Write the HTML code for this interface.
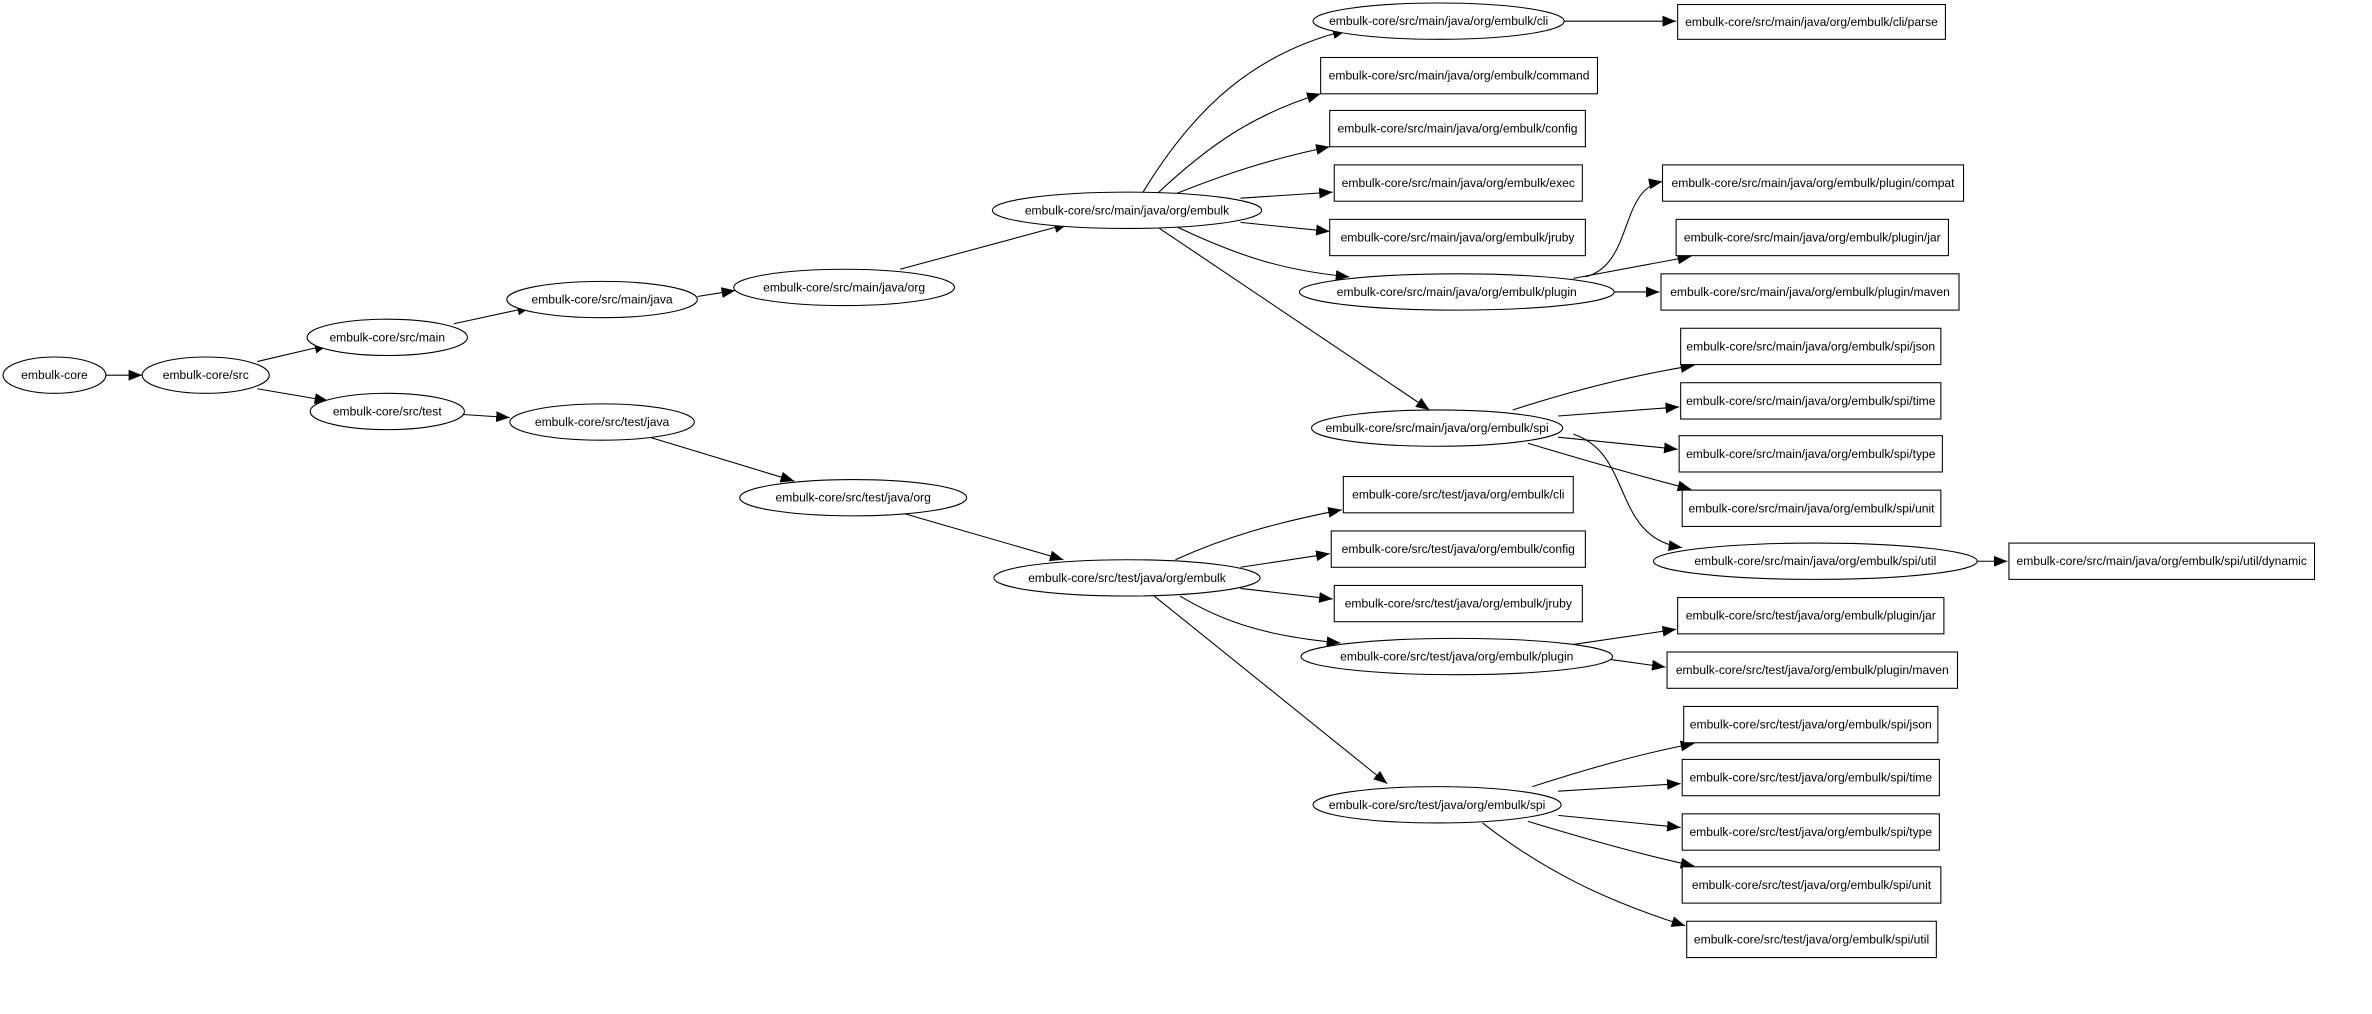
<!DOCTYPE html>
<html><head><meta charset="utf-8"><style>
html,body{margin:0;padding:0;background:#fff;}
svg{display:block;}
text{font-family:"Liberation Sans",Arial,sans-serif;font-size:8px;fill:#000;text-anchor:middle;dominant-baseline:central;}
.n{fill:#fff;stroke:#000;stroke-width:0.7;}
.e{fill:none;stroke:#000;stroke-width:0.7;marker-end:url(#a);}
</style></head><body>
<svg width="2372" height="1014" viewBox="0 0 1568 670.3" xmlns="http://www.w3.org/2000/svg">
<defs><marker id="a" viewBox="0 0 10 10" refX="10" refY="5" markerWidth="9" markerHeight="9" markerUnits="userSpaceOnUse" orient="auto"><path d="M0,1 L10,5 L0,9 z" fill="#000"/></marker></defs>

<path class="e" d="M70,248 L94,248"/>
<path class="e" d="M170,239 L217,228"/>
<path class="e" d="M170,257 L217,265"/>
<path class="e" d="M300,214 L351,203"/>
<path class="e" d="M306,274 L337,276"/>
<path class="e" d="M461,196 L486,192"/>
<path class="e" d="M426,288 L525,318"/>
<path class="e" d="M595,178 L706,148"/>
<path class="e" d="M596,339 L703,370"/>
<path class="e" d="M755,128 C790,70 830,35 890,20"/>
<path class="e" d="M765,128 C800,95 830,75 873,62"/>
<path class="e" d="M775,129 C810,115 840,105 879,97"/>
<path class="e" d="M820,131 L881,127"/>
<path class="e" d="M820,147 L879,153"/>
<path class="e" d="M778,150 C820,170 850,179 892,183"/>
<path class="e" d="M765,150 L945,271"/>
<path class="e" d="M1034,14 L1108,14"/>
<path class="e" d="M1048,183 C1080,175 1070,125 1099,120"/>
<path class="e" d="M1040,184 L1118,169.5"/>
<path class="e" d="M1067,193 L1097,193"/>
<path class="e" d="M1000,271 C1040,258 1080,248 1120,241.5"/>
<path class="e" d="M1030,275 L1110,269"/>
<path class="e" d="M1030,289 L1109,297"/>
<path class="e" d="M1010,293 C1050,305 1085,315 1118,323.5"/>
<path class="e" d="M1040,287 C1080,300 1065,355 1112,362"/>
<path class="e" d="M1307,371 L1327,371"/>
<path class="e" d="M777,370 C810,355 845,345 887,337"/>
<path class="e" d="M820,375 L879,366"/>
<path class="e" d="M820,389 L881,396"/>
<path class="e" d="M780,394 C810,412 840,421 886,425"/>
<path class="e" d="M763,394 L917,518"/>
<path class="e" d="M1040,426 L1108,416"/>
<path class="e" d="M1065,436 L1101,441"/>
<path class="e" d="M1013,520 C1050,508 1085,498 1120,491.5"/>
<path class="e" d="M1030,523 L1111,518"/>
<path class="e" d="M1030,539 L1111,547"/>
<path class="e" d="M1010,543 C1050,555 1085,565 1120,572.5"/>
<path class="e" d="M980,544 C1020,575 1060,595 1114,612"/>

<ellipse class="n" cx="36" cy="248" rx="34" ry="12"/><text x="36" y="248">embulk-core</text>
<ellipse class="n" cx="136" cy="248" rx="42" ry="12"/><text x="136" y="248">embulk-core/src</text>
<ellipse class="n" cx="256" cy="223" rx="53" ry="12"/><text x="256" y="223">embulk-core/src/main</text>
<ellipse class="n" cx="256" cy="272" rx="51" ry="12"/><text x="256" y="272">embulk-core/src/test</text>
<ellipse class="n" cx="398" cy="198" rx="63" ry="12"/><text x="398" y="198">embulk-core/src/main/java</text>
<ellipse class="n" cx="398" cy="279" rx="61" ry="12"/><text x="398" y="279">embulk-core/src/test/java</text>
<ellipse class="n" cx="558" cy="190" rx="73" ry="12"/><text x="558" y="190">embulk-core/src/main/java/org</text>
<ellipse class="n" cx="564" cy="329" rx="75" ry="12"/><text x="564" y="329">embulk-core/src/test/java/org</text>
<ellipse class="n" cx="745" cy="139" rx="89" ry="12"/><text x="745" y="139">embulk-core/src/main/java/org/embulk</text>
<ellipse class="n" cx="745" cy="382" rx="88" ry="12"/><text x="745" y="382">embulk-core/src/test/java/org/embulk</text>
<ellipse class="n" cx="951" cy="14" rx="83" ry="12"/><text x="951" y="14">embulk-core/src/main/java/org/embulk/cli</text>
<ellipse class="n" cx="963" cy="193" rx="104" ry="12"/><text x="963" y="193">embulk-core/src/main/java/org/embulk/plugin</text>
<ellipse class="n" cx="950" cy="283" rx="83" ry="12"/><text x="950" y="283">embulk-core/src/main/java/org/embulk/spi</text>
<ellipse class="n" cx="1200" cy="371" rx="107" ry="12"/><text x="1200" y="371">embulk-core/src/main/java/org/embulk/spi/util</text>
<ellipse class="n" cx="963" cy="434" rx="103" ry="12"/><text x="963" y="434">embulk-core/src/test/java/org/embulk/plugin</text>
<ellipse class="n" cx="950" cy="532" rx="82" ry="12"/><text x="950" y="532">embulk-core/src/test/java/org/embulk/spi</text>

<rect class="n" x="1109" y="3" width="177" height="23"/><text x="1197.5" y="14.5">embulk-core/src/main/java/org/embulk/cli/parse</text>
<rect class="n" x="873" y="38" width="183" height="24"/><text x="964.5" y="50">embulk-core/src/main/java/org/embulk/command</text>
<rect class="n" x="879" y="73" width="169" height="24"/><text x="963.5" y="85">embulk-core/src/main/java/org/embulk/config</text>
<rect class="n" x="882" y="109" width="164" height="24"/><text x="964" y="121">embulk-core/src/main/java/org/embulk/exec</text>
<rect class="n" x="879" y="145" width="169" height="24"/><text x="963.5" y="157">embulk-core/src/main/java/org/embulk/jruby</text>
<rect class="n" x="1099" y="109" width="199" height="24"/><text x="1198.5" y="121">embulk-core/src/main/java/org/embulk/plugin/compat</text>
<rect class="n" x="1108" y="145" width="180" height="24"/><text x="1198" y="157">embulk-core/src/main/java/org/embulk/plugin/jar</text>
<rect class="n" x="1098" y="181" width="197" height="24"/><text x="1196.5" y="193">embulk-core/src/main/java/org/embulk/plugin/maven</text>
<rect class="n" x="1111" y="217" width="172" height="24"/><text x="1197" y="229">embulk-core/src/main/java/org/embulk/spi/json</text>
<rect class="n" x="1111" y="253" width="172" height="24"/><text x="1197" y="265">embulk-core/src/main/java/org/embulk/spi/time</text>
<rect class="n" x="1110" y="288" width="174" height="24"/><text x="1197" y="300">embulk-core/src/main/java/org/embulk/spi/type</text>
<rect class="n" x="1112" y="324" width="171" height="24"/><text x="1197.5" y="336">embulk-core/src/main/java/org/embulk/spi/unit</text>
<rect class="n" x="1328" y="359" width="202" height="24"/><text x="1429" y="371">embulk-core/src/main/java/org/embulk/spi/util/dynamic</text>
<rect class="n" x="888" y="315" width="152" height="24"/><text x="964" y="327">embulk-core/src/test/java/org/embulk/cli</text>
<rect class="n" x="880" y="351" width="168" height="24"/><text x="964" y="363">embulk-core/src/test/java/org/embulk/config</text>
<rect class="n" x="882" y="387" width="164" height="24"/><text x="964" y="399">embulk-core/src/test/java/org/embulk/jruby</text>
<rect class="n" x="1109" y="395" width="176" height="24"/><text x="1197" y="407">embulk-core/src/test/java/org/embulk/plugin/jar</text>
<rect class="n" x="1102" y="431" width="192" height="24"/><text x="1198" y="443">embulk-core/src/test/java/org/embulk/plugin/maven</text>
<rect class="n" x="1113" y="467" width="168" height="24"/><text x="1197" y="479">embulk-core/src/test/java/org/embulk/spi/json</text>
<rect class="n" x="1112" y="502" width="170" height="24"/><text x="1197" y="514">embulk-core/src/test/java/org/embulk/spi/time</text>
<rect class="n" x="1112" y="538" width="170" height="24"/><text x="1197" y="550">embulk-core/src/test/java/org/embulk/spi/type</text>
<rect class="n" x="1112" y="573" width="171" height="24"/><text x="1197.5" y="585">embulk-core/src/test/java/org/embulk/spi/unit</text>
<rect class="n" x="1115" y="609" width="165" height="24"/><text x="1197.5" y="621">embulk-core/src/test/java/org/embulk/spi/util</text>
</svg>
</body></html>
